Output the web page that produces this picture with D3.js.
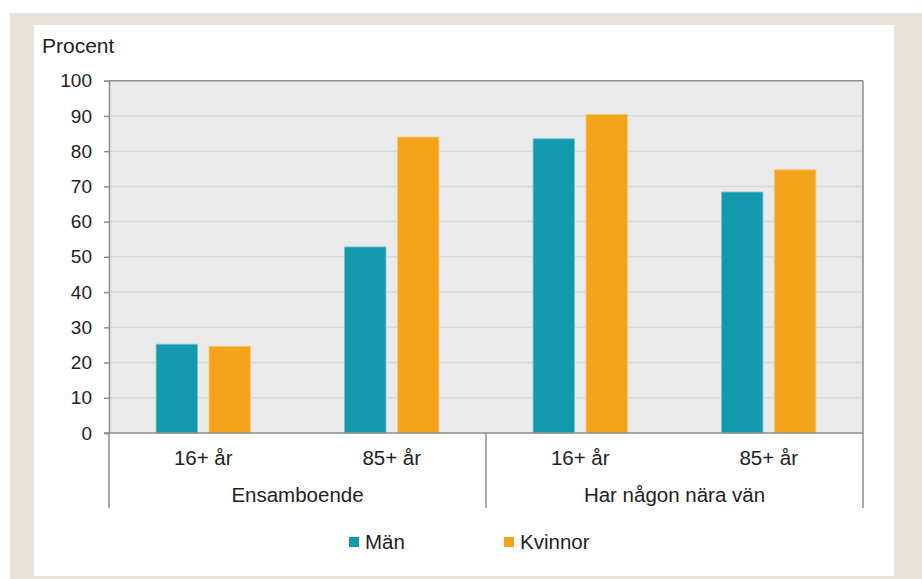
<!DOCTYPE html>
<html lang="sv">
<head>
<meta charset="UTF-8">
<script src="https://d3js.org/d3.v7.min.js"></script>
<style>
  html,body{margin:0;padding:0;background:#fff;}
  svg text{font-family:"Liberation Sans",Arial,sans-serif;fill:#222;}
</style>
</head>
<body>
<svg id="chart" width="922" height="579"></svg>
<script>
// data
var groups = ["Ensamboende", "Har någon nära vän"];
var ages = ["16+ år", "85+ år"];
var series = ["Män", "Kvinnor"];
var colors = ["#1399ae", "#f4a41a"];
var man = [25.2, 52.8, 83.5, 68.4];
var kvinnor = [24.6, 84.0, 90.4, 74.7];
var yTicks = [0, 10, 20, 30, 40, 50, 60, 70, 80, 90, 100];

var cats = [];
groups.forEach(function(g){ ages.forEach(function(a){ cats.push(g + "|" + a); }); });
var rows = cats.map(function(c, i){ return {cat: c, vals: [man[i], kvinnor[i]]}; });

var svg = d3.select("#chart");

// frame
svg.append("rect").attr("x", 10).attr("y", 13).attr("width", 912).attr("height", 566).attr("fill", "#e7e3da");
svg.append("rect").attr("x", 34).attr("y", 25).attr("width", 860).attr("height", 551).attr("fill", "#fff");

var pLeft = 109, pRight = 863, pTop = 80.7, pBottom = 433;

var x0 = d3.scaleBand().domain(cats).range([pLeft, pRight]).padding(0);
var bw = x0.bandwidth();
var x1 = d3.scaleBand().domain(series).range([bw * 0.25, bw * 0.75]).paddingInner(0.22);
var y = d3.scaleLinear().domain([0, 100]).range([pBottom, pTop]);

// plot background
svg.append("rect").attr("x", pLeft).attr("y", pTop).attr("width", pRight - pLeft).attr("height", pBottom - pTop).attr("fill", "#eaeaea");

// grid
svg.append("g").selectAll("line").data(yTicks.filter(function(d){ return d > 0 && d < 100; }))
  .join("line")
  .attr("x1", pLeft).attr("x2", pRight)
  .attr("y1", function(d){ return y(d); }).attr("y2", function(d){ return y(d); })
  .attr("stroke", "#d8d8d8").attr("stroke-width", 1.5);

// bars
var g = svg.append("g").selectAll("g").data(rows).join("g")
  .attr("transform", function(d){ return "translate(" + x0(d.cat) + ",0)"; });
g.selectAll("rect").data(function(d){ return d.vals.map(function(v, i){ return {s: series[i], v: v, i: i}; }); })
  .join("rect")
  .attr("x", function(d){ return x1(d.s); })
  .attr("width", x1.bandwidth())
  .attr("y", function(d){ return y(d.v); })
  .attr("height", function(d){ return y(0) - y(d.v); })
  .attr("fill", function(d){ return colors[d.i]; })
  .attr("stroke", function(d){ return d.i === 0 ? "#6cc0cf" : "#f8c46a"; })
  .attr("stroke-width", 0.8);

// y axis
var yAxis = d3.axisLeft(y).tickValues(yTicks).tickSize(5).tickPadding(12);
var ya = svg.append("g").attr("transform", "translate(" + pLeft + ",0)").call(yAxis);
ya.select(".domain").attr("stroke", "#8c8c8c").attr("stroke-width", 1.5);
ya.selectAll(".tick line").attr("stroke", "#8c8c8c").attr("stroke-width", 1.5);
ya.selectAll(".tick text").attr("font-size", 19).attr("fill", "#222")
  .style("font-family", "'Liberation Sans', Arial, sans-serif");

// plot frame top/right and baseline
svg.append("line").attr("x1", pLeft).attr("x2", pRight).attr("y1", pTop).attr("y2", pTop).attr("stroke", "#8c8c8c").attr("stroke-width", 1.5);
svg.append("line").attr("x1", pRight).attr("x2", pRight).attr("y1", pTop).attr("y2", pBottom).attr("stroke", "#8c8c8c").attr("stroke-width", 1.5);
svg.append("line").attr("x1", pLeft - 5).attr("x2", pRight).attr("y1", pBottom).attr("y2", pBottom).attr("stroke", "#8c8c8c").attr("stroke-width", 1.5);

// group separators below the axis
var seps = [pLeft, x0(cats[2]), pRight];
svg.append("g").selectAll("line").data(seps).join("line")
  .attr("x1", function(d){ return d; }).attr("x2", function(d){ return d; })
  .attr("y1", pBottom).attr("y2", 508)
  .attr("stroke", "#8c8c8c").attr("stroke-width", 1.5);

// age labels
svg.append("g").selectAll("text").data(cats).join("text")
  .attr("x", function(d){ return x0(d) + bw / 2; })
  .attr("y", 465)
  .attr("text-anchor", "middle").attr("font-size", 20.5)
  .text(function(d){ return d.split("|")[1]; });

// group labels
svg.append("g").selectAll("text").data(groups).join("text")
  .attr("x", function(d){ return (x0(d + "|" + ages[0]) + x0(d + "|" + ages[1]) + bw) / 2; })
  .attr("y", 502)
  .attr("text-anchor", "middle").attr("font-size", 20.5)
  .text(function(d){ return d; });

// y title
svg.append("text").attr("x", 42).attr("y", 53).attr("font-size", 21).text("Procent");

// legend
var legX = [349, 504];
var leg = svg.append("g").selectAll("g").data(series).join("g")
  .attr("transform", function(d, i){ return "translate(" + legX[i] + ",537)"; });
leg.append("rect").attr("width", 10).attr("height", 10).attr("fill", function(d, i){ return colors[i]; });
leg.append("text").attr("x", 16).attr("y", 12).attr("font-size", 20.5).text(function(d){ return d; });
</script>
</body>
</html>
